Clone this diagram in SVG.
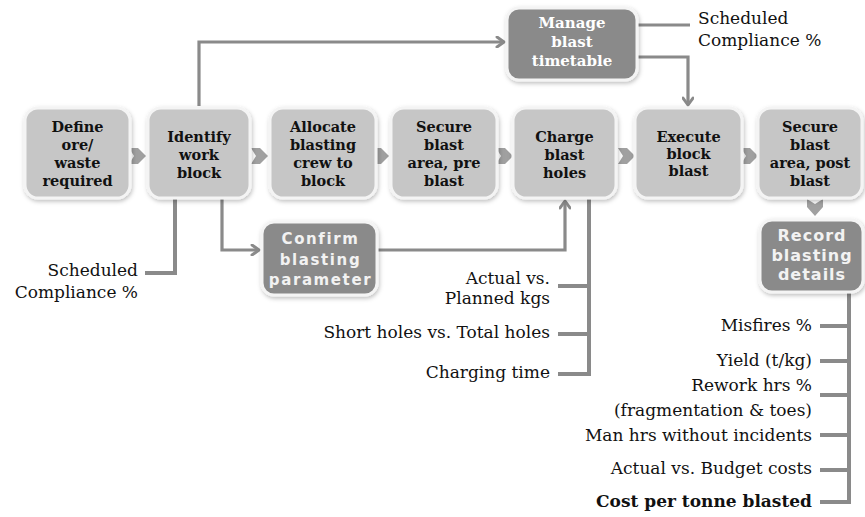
<svg xmlns="http://www.w3.org/2000/svg" width="865" height="517" viewBox="0 0 865 517">
<defs>
<filter id="sh" x="-20%" y="-20%" width="140%" height="140%">
<feDropShadow dx="1" dy="2" stdDeviation="2" flood-color="#000" flood-opacity="0.25"/>
</filter>
<marker id="ah" viewBox="0 0 12 12" refX="10" refY="6" markerWidth="12" markerHeight="12" markerUnits="userSpaceOnUse" orient="auto">
<path d="M3,1 L10,6 L3,11" fill="none" stroke="#8a8a8a" stroke-width="3" stroke-linecap="round" stroke-linejoin="round"/>
</marker>
</defs>
<style>
.bx{fill:#c6c6c6;stroke:#f4f4f4;stroke-width:3;filter:url(#sh)}
.dk{fill:#8a8a8a;stroke:#f4f4f4;stroke-width:3;filter:url(#sh)}
.bt{font-family:"DejaVu Serif",serif;font-weight:bold;font-size:14.5px;fill:#111;text-anchor:middle}
.wt{font-family:"DejaVu Serif",serif;font-weight:bold;font-size:15px;fill:#ffffff;text-anchor:middle}
.ws{font-family:"DejaVu Sans",sans-serif;font-weight:bold;font-size:15px;letter-spacing:1.6px;fill:#f2f2f2;text-anchor:middle}
.wr{font-family:"DejaVu Sans",sans-serif;font-weight:bold;font-size:16px;letter-spacing:1px;fill:#f2f2f2;text-anchor:middle}
.lb{font-family:"DejaVu Serif",serif;font-size:17px;fill:#111}
.r{text-anchor:end}
.ln{fill:none;stroke:#8a8a8a;stroke-width:4}
.th{fill:none;stroke:#8a8a8a;stroke-width:3.2}
.ch{fill:#a0a0a0}
</style>

<g id="connectors">
<path class="th" d="M199,106 V42 H504" marker-end="url(#ah)"/>
<path class="th" d="M637,25 H690"/>
<path class="th" d="M637,57 H688 V105" marker-end="url(#ah)"/>
<path class="ln" d="M175,198 V273 H145"/>
<path class="th" d="M222,198 V250 H259" marker-end="url(#ah)"/>
<path class="th" d="M377,250 H565 V201" marker-end="url(#ah)"/>
<path class="ln" d="M589,199 V374 H558 M558,286 H589 M558,334 H589"/>
<path class="ln" d="M849,293 V502 H820 M820,326 H849 M820,361 H849 M820,395 H849 M820,435 H849 M820,470 H849"/>
<polygon class="ch" points="129,148 138,148 146,156 138,164 129,164 134,156"/>
<polygon class="ch" points="251,148 260,148 268,156 260,164 251,164 256,156"/>
<polygon class="ch" points="372,148 381,148 389,156 381,164 372,164 377,156"/>
<polygon class="ch" points="496,148 505,148 513,156 505,164 496,164 501,156"/>
<polygon class="ch" points="618,148 627,148 635,156 627,164 618,164 623,156"/>
<polygon class="ch" points="741,148 750,148 758,156 750,164 741,164 746,156"/>
<polygon class="ch" points="807,199 807,207 815,216 823,207 823,199 815,204"/>
</g>

<g id="define">
<rect class="bx" x="25" y="108" width="105" height="90" rx="13"/>
<text class="bt"><tspan x="77.5" y="132">Define</tspan><tspan x="77.5" y="150">ore/</tspan><tspan x="77.5" y="168">waste</tspan><tspan x="77.5" y="186">required</tspan></text>
</g>
<g id="identify">
<rect class="bx" x="148" y="108" width="102" height="90" rx="13"/>
<text class="bt"><tspan x="199" y="142">Identify</tspan><tspan x="199" y="160">work</tspan><tspan x="199" y="178">block</tspan></text>
</g>
<g id="allocate">
<rect class="bx" x="270" y="108" width="106" height="90" rx="13"/>
<text class="bt"><tspan x="323" y="132">Allocate</tspan><tspan x="323" y="150">blasting</tspan><tspan x="323" y="168">crew to</tspan><tspan x="323" y="186">block</tspan></text>
</g>
<g id="secure-pre">
<rect class="bx" x="391" y="108" width="106" height="90" rx="13"/>
<text class="bt"><tspan x="444" y="132">Secure</tspan><tspan x="444" y="150">blast</tspan><tspan x="444" y="168">area, pre</tspan><tspan x="444" y="186">blast</tspan></text>
</g>
<g id="charge">
<rect class="bx" x="513" y="108" width="103" height="90" rx="13"/>
<text class="bt"><tspan x="564.5" y="142">Charge</tspan><tspan x="564.5" y="160">blast</tspan><tspan x="564.5" y="178">holes</tspan></text>
</g>
<g id="execute">
<rect class="bx" x="635" y="108" width="107" height="90" rx="13"/>
<text class="bt"><tspan x="688.5" y="142">Execute</tspan><tspan x="688.5" y="159">block</tspan><tspan x="688.5" y="176">blast</tspan></text>
</g>
<g id="secure-post">
<rect class="bx" x="758" y="108" width="104" height="90" rx="13"/>
<text class="bt"><tspan x="810" y="132">Secure</tspan><tspan x="810" y="150">blast</tspan><tspan x="810" y="168">area, post</tspan><tspan x="810" y="186">blast</tspan></text>
</g>
<g id="manage">
<rect class="dk" x="507" y="8" width="130" height="72" rx="12"/>
<text class="wt"><tspan x="572" y="28">Manage</tspan><tspan x="572" y="47">blast</tspan><tspan x="572" y="66">timetable</tspan></text>
</g>
<g id="confirm">
<rect class="dk" x="262" y="222" width="115" height="73" rx="12"/>
<text class="ws"><tspan x="320.5" y="244">Confirm</tspan><tspan x="320.5" y="265">blasting</tspan><tspan x="320.5" y="285">parameter</tspan></text>
</g>
<g id="record">
<rect class="dk" x="760" y="220" width="103" height="72" rx="12"/>
<text class="wr"><tspan x="812" y="241">Record</tspan><tspan x="812" y="261">blasting</tspan><tspan x="812" y="280">details</tspan></text>
</g>

<g id="labels">
<text class="lb"><tspan x="698" y="24">Scheduled</tspan><tspan x="698" y="46">Compliance %</tspan></text>
<text class="lb r"><tspan x="138" y="276">Scheduled</tspan><tspan x="138" y="298">Compliance %</tspan></text>
<text class="lb r"><tspan x="550" y="284">Actual vs.</tspan><tspan x="550" y="304">Planned kgs</tspan></text>
<text class="lb r" x="550" y="338">Short holes vs. Total holes</text>
<text class="lb r" x="550" y="378">Charging time</text>
<text class="lb r" x="812" y="331">Misfires %</text>
<text class="lb r" x="812" y="366">Yield (t/kg)</text>
<text class="lb r"><tspan x="812" y="391">Rework hrs %</tspan><tspan x="812" y="416">(fragmentation &amp; toes)</tspan></text>
<text class="lb r" x="812" y="441">Man hrs without incidents</text>
<text class="lb r" x="812" y="474">Actual vs. Budget costs</text>
<text class="lb r" x="812" y="507" font-weight="bold">Cost per tonne blasted</text>
</g>
</svg>
